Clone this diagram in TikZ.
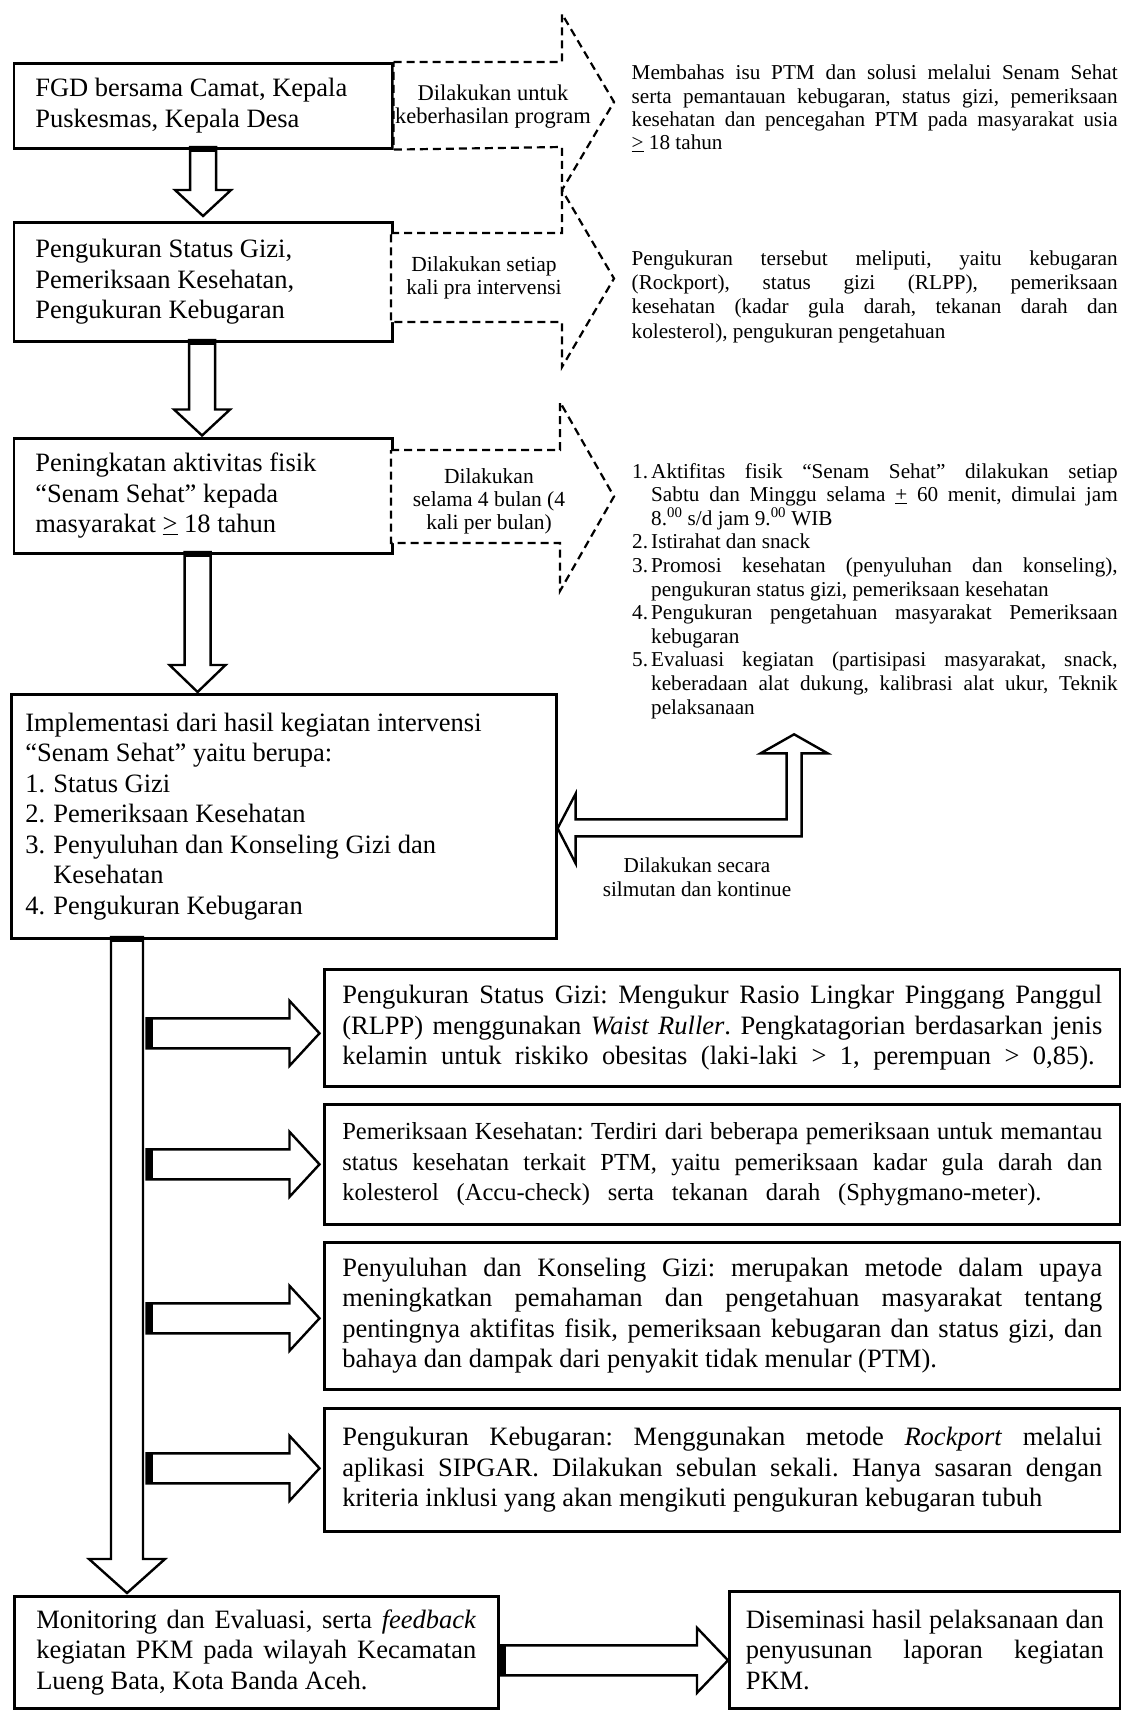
\documentclass[tikz,border=0pt]{standalone}
\usepackage{fontspec}
\setmainfont{Liberation Serif}
\usetikzlibrary{calc}
\frenchspacing

\newcommand{\bigfont}{\fontsize{26.5}{30.5}\selectfont}
\newcommand{\smallfont}{\fontsize{21.2}{24.4}\selectfont}
% one justified line of a fixed text block
\newcommand{\jline}[1]{\makebox[\hsize][s]{\spaceskip=0pt\relax #1}}
\newcommand{\jitem}[1]{\makebox[\dimexpr\hsize-19pt\relax][s]{\spaceskip=0pt\relax #1}}
% hollow block arrows: tip, length, shaft half width, head half width, head length
\newcommand{\blkdown}[5]{%
  \begin{scope}[shift={#1}]
    \draw[blk] (0,0) -- (-#4,-#5) -- (-#3,-#5) -- (-#3,-#2) -- (#3,-#2) -- (#3,-#5) -- (#4,-#5) -- cycle;
    \fill (-#3,-#2) rectangle (#3,-#2+5);
  \end{scope}}
\newcommand{\blkright}[5]{%
  \begin{scope}[shift={#1}]
    \draw[blk] (0,0) -- (-#5,-#4) -- (-#5,-#3) -- (-#2,-#3) -- (-#2,#3) -- (-#5,#3) -- (-#5,#4) -- cycle;
    \fill (-#2,-#3) rectangle (-#2+6,#3);
  \end{scope}}

\tikzset{
  box/.style={draw, line width=2.6pt, fill=white, font=\bigfont, align=justify, anchor=north west, inner ysep=2pt},
  sidebox/.style={box, text width=760pt, inner xsep=18pt},
  blk/.style={draw, line width=2.4pt, fill=white, line join=miter},
  dsh/.style={draw, line width=2.2pt, dash pattern=on 8pt off 5pt, fill=white},
  lbl/.style={font=\fontsize{21.5}{23}\selectfont, align=center, inner sep=0pt},
  note/.style={font=\smallfont, align=justify, anchor=base west, inner sep=0pt, text width=486pt},
}

\begin{document}
\begin{tikzpicture}[x=1pt, y=-1pt]
    \useasboundingbox (0,0) rectangle (1121,1710);

    % main column
    \node[box, text width=335.5pt, inner xsep=21.5pt, minimum height=85pt] (fgd) at (12.5,62)
        {FGD bersama Camat, Kepala\\Puskesmas, Kepala Desa};
    \node[box, text width=335.5pt, inner xsep=21.5pt, minimum height=119pt] (ukur) at (12.5,221)
        {Pengukuran Status Gizi,\\Pemeriksaan Kesehatan,\\Pengukuran Kebugaran};
    \node[box, text width=335.5pt, inner xsep=21.5pt, minimum height=115pt] (senam) at (12.5,437)
        {Peningkatan aktivitas fisik\\“Senam Sehat” kepada\\masyarakat \underline{>} 18 tahun};
    \node[box, text width=517pt, inner xsep=14pt, minimum height=244pt] (impl) at (10,693)
        {Implementasi dari hasil kegiatan intervensi\\“Senam Sehat” yaitu berupa:\\
         \makebox[28pt][l]{1.}Status Gizi\\
         \makebox[28pt][l]{2.}Pemeriksaan Kesehatan\\
         \makebox[28pt][l]{3.}Penyuluhan dan Konseling Gizi dan\\
         \hspace*{28pt}Kesehatan\\
         \makebox[28pt][l]{4.}Pengukuran Kebugaran};

    % detail boxes
    \node[sidebox, minimum height=117pt] (gizi) at (323,968)
        {\jline{Pengukuran Status Gizi: Mengukur Rasio Lingkar Pinggang Panggul}\\
         \jline{(RLPP) menggunakan \textit{Waist Ruller}. Pengkatagorian berdasarkan jenis}\\
         \makebox[0.99\hsize][s]{\spaceskip=0pt\relax kelamin untuk riskiko obesitas (laki-laki > 1, perempuan > 0,85).}};
    \node[sidebox, minimum height=120pt, font=\fontsize{24.5}{30.5}\selectfont] (periksa) at (323,1103)
        {\jline{Pemeriksaan Kesehatan: Terdiri dari beberapa pemeriksaan untuk memantau}\\
         \jline{status kesehatan terkait PTM, yaitu pemeriksaan kadar gula darah dan}\\
         \makebox[0.92\hsize][s]{\spaceskip=0pt\relax kolesterol (Accu-check) serta tekanan darah (Sphygmano-meter).}};
    \node[sidebox, minimum height=147pt] (suluh) at (323,1241)
        {\jline{Penyuluhan dan Konseling Gizi: merupakan metode dalam upaya}\\
         \jline{meningkatkan pemahaman dan pengetahuan masyarakat tentang}\\
         \jline{pentingnya aktifitas fisik, pemeriksaan kebugaran dan status gizi, dan}\\
         bahaya dan dampak dari penyakit tidak menular (PTM).};
    \node[sidebox, minimum height=123pt] (bugar) at (323,1407)
        {\jline{Pengukuran Kebugaran: Menggunakan metode \textit{Rockport} melalui}\\
         \jline{aplikasi SIPGAR. Dilakukan sebulan sekali. Hanya sasaran dengan}\\
         kriteria inklusi yang akan mengikuti pengukuran kebugaran tubuh};

    \node[box, text width=440pt, inner xsep=22pt, minimum height=112pt] (monev) at (13,1595)
        {\jline{Monitoring dan Evaluasi, serta \textit{feedback}}\\
         \jline{kegiatan PKM pada wilayah Kecamatan}\\
         Lueng Bata, Kota Banda Aceh.};
    \node[box, text width=358pt, inner xsep=16.5pt, minimum height=117pt] (dsm) at (728,1590)
        {\jline{Diseminasi hasil pelaksanaan dan}\\
         \jline{penyusunan laporan kegiatan}\\
         PKM.};

    % dashed arrows to the notes
    \draw[dsh] (fgd.north east) -- (562,62) -- (562,14) -- (614,102) -- (562,190) -- (562,147) -- (fgd.south east) -- cycle;
    \draw[dsh] (391,233) -- (562,233) -- (562,190) -- (614,278.5) -- (562,367) -- (562,322) -- (391,322) -- cycle;
    \draw[dsh] (391,450) -- (560,450) -- (560,402) -- (614,496.5) -- (560,591) -- (560,543) -- (391,543) -- cycle;
    \node[lbl, font=\fontsize{22.5}{23}\selectfont] (untuk) at (493,107) {Dilakukan untuk\\keberhasilan program};
    \node[lbl] (setiap) at (484,278) {Dilakukan setiap\\kali pra intervensi};
    \node[lbl] (selama) at (489,501) {Dilakukan\\selama 4 bulan (4\\kali per bulan)};

    % notes
    \node[note, font=\fontsize{21.2}{23.3}\selectfont] (bahas) at (631.5,80)
        {\jline{Membahas isu PTM dan solusi melalui Senam Sehat}\\
         \jline{serta pemantauan kebugaran, status gizi, pemeriksaan}\\
         \jline{kesehatan dan pencegahan PTM pada masyarakat usia}\\
         \underline{>} 18 tahun};
    \node[note] (meliputi) at (631.5,265)
        {\jline{Pengukuran tersebut meliputi, yaitu kebugaran}\\
         \jline{(Rockport), status gizi (RLPP), pemeriksaan}\\
         \jline{kesehatan (kadar gula darah, tekanan darah dan}\\
         kolesterol), pengukuran pengetahuan};
    \node[note, text width=485.5pt, font=\fontsize{21.2}{23.6}\selectfont] (kegiatan) at (632,478)
        {\makebox[19pt][l]{1.}\jitem{Aktifitas fisik “Senam Sehat” dilakukan setiap}\\
         \hspace*{19pt}\jitem{Sabtu dan Minggu selama \underline{+} 60 menit, dimulai jam}\\
         \hspace*{19pt}8.\textsuperscript{00} s/d jam 9.\textsuperscript{00} WIB\\
         \makebox[19pt][l]{2.}Istirahat dan snack\\
         \makebox[19pt][l]{3.}\jitem{Promosi kesehatan (penyuluhan dan konseling),}\\
         \hspace*{19pt}pengukuran status gizi, pemeriksaan kesehatan\\
         \makebox[19pt][l]{4.}\jitem{Pengukuran pengetahuan masyarakat Pemeriksaan}\\
         \hspace*{19pt}kebugaran\\
         \makebox[19pt][l]{5.}\jitem{Evaluasi kegiatan (partisipasi masyarakat, snack,}\\
         \hspace*{19pt}\jitem{keberadaan alat dukung, kalibrasi alat ukur, Teknik}\\
         \hspace*{19pt}pelaksanaan};

    % hollow arrows down the column
    \blkdown{($(ukur.north)+(0,-5)$)}{69}{13}{28}{26}
    \blkdown{($(senam.north)+(-1,-1.5)$)}{95.5}{13}{28}{26}
    \blkdown{($(senam.south |- impl.north)+(-5.5,-1)$)}{140}{13}{28}{27}
    \blkdown{($(monev.north west)+(114,-2)$)}{656}{16}{38}{34}

    % hollow arrows to the detail boxes
    \blkright{($(gizi.west)+(-3.5,5.5)$)}{173}{15}{32.5}{30}
    \blkright{($(periksa.west)+(-3.5,0)$)}{173}{15}{32.5}{30}
    \blkright{($(suluh.west)+(-3.5,2.5)$)}{173}{15}{32.5}{30}
    \blkright{($(bugar.west)+(-3.5,-1.5)$)}{173}{15}{32.5}{30}
    \blkright{($(dsm.west)+(0,10.5)$)}{228}{15}{32.5}{31}

    % bent arrow back from the notes
    \begin{scope}[shift={($(impl.east)+(0,12)$)}]
        \draw[blk] (0,0) -- (18,-34.5) -- (18,-9) -- (229,-9) -- (229,-75) -- (203,-75) -- (236.5,-94)
            -- (270,-75) -- (244,-75) -- (244,8) -- (18,8) -- (18,35) -- cycle;
    \end{scope}
    \node[lbl, font=\smallfont] (simultan) at (697,877) {Dilakukan secara\\silmutan dan kontinue};
\end{tikzpicture}
\end{document}
